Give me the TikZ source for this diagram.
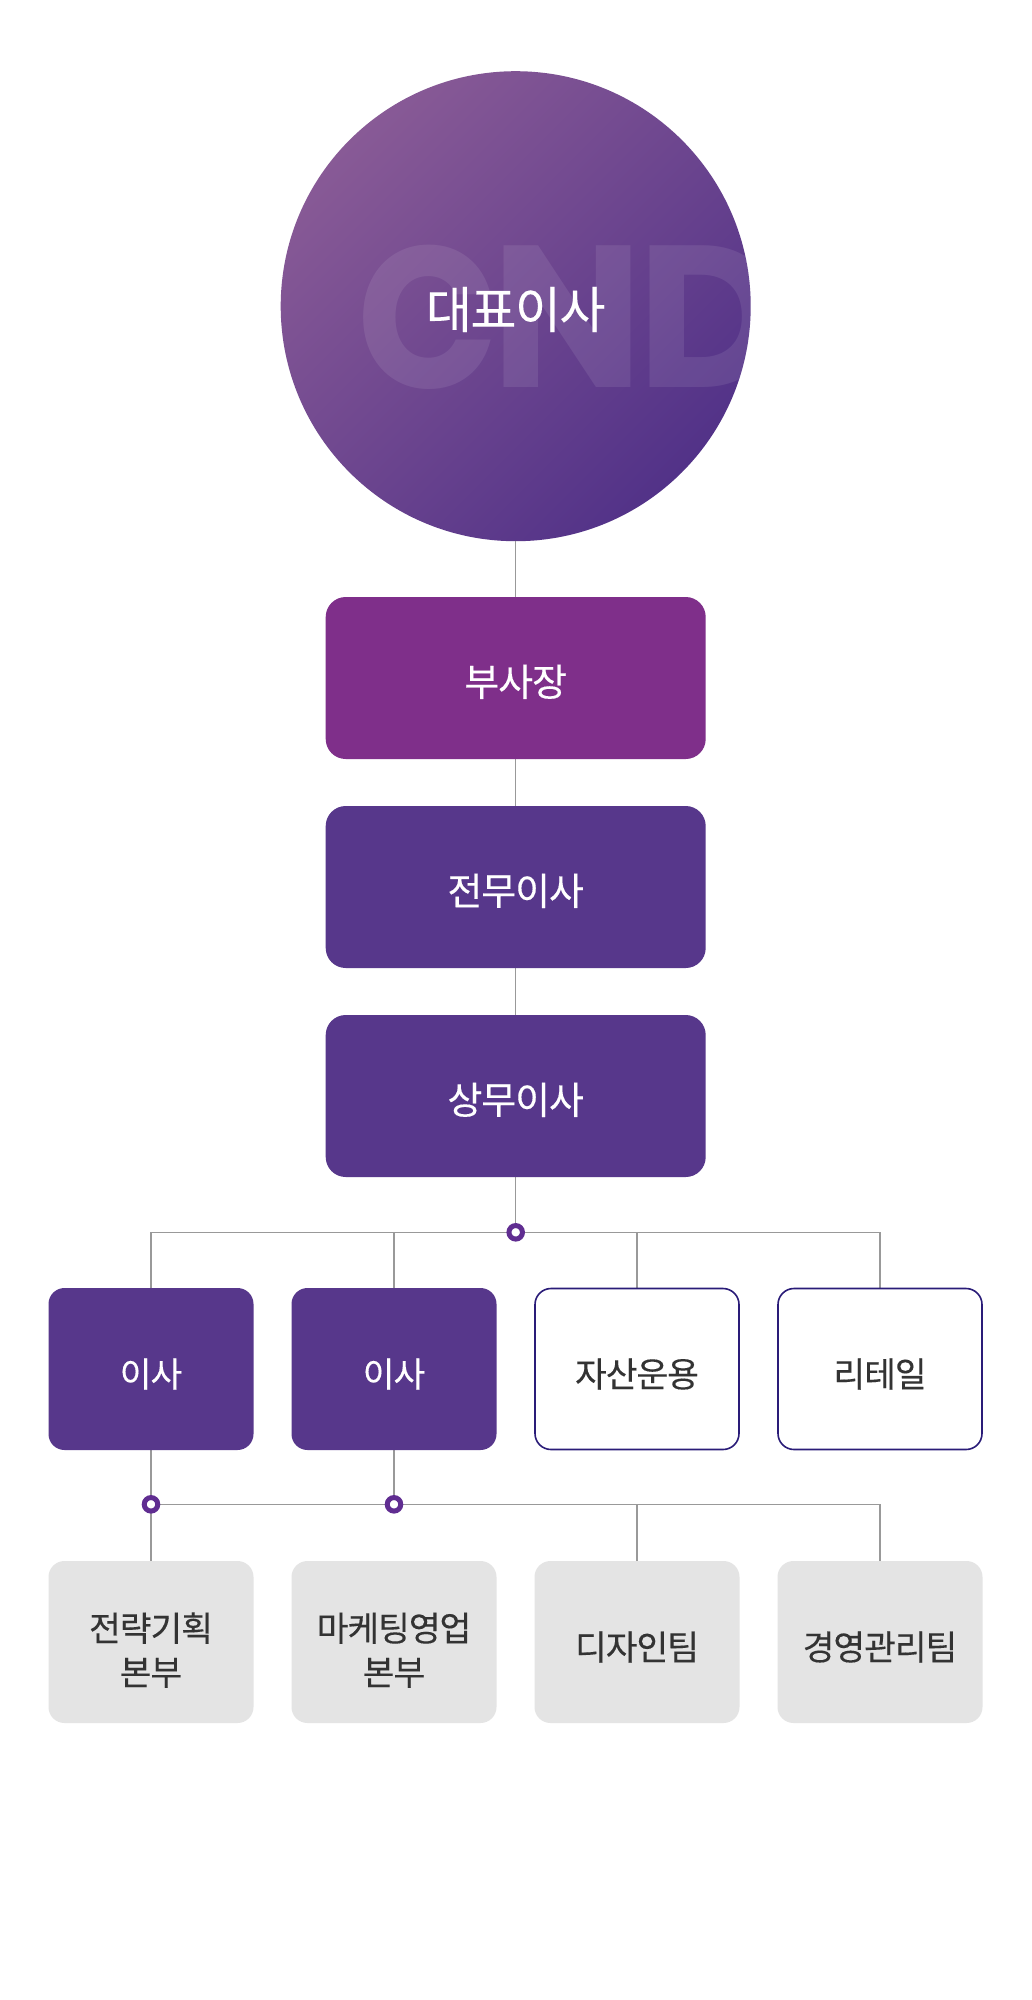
\documentclass[tikz,border=0pt]{standalone}
\usepackage{fontspec}
\setmainfont{Noto Sans CJK KR}[FakeBold=0.25,LetterSpace=-3]
\newfontfamily\cndfont{Poppins}
\newcommand{\lowone}[1]{\raisebox{-18pt}[0pt][0pt]{#1}}
\newcommand{\lowtwo}[2]{\raisebox{-18.5pt}[0pt][0pt]{\begin{tabular}{@{}c@{}}#1\\#2\end{tabular}}}
\definecolor{boxpurple}{RGB}{87,55,139}
\definecolor{boxmagenta}{RGB}{127,47,138}
\definecolor{boxgray}{RGB}{228,228,228}
\definecolor{boxline}{RGB}{42,28,120}
\definecolor{inkdark}{RGB}{51,51,51}
\definecolor{linkgray}{RGB}{153,153,153}
\definecolor{ringpurple}{RGB}{96,45,145}
\definecolor{gradA}{RGB}{136,90,150}
\definecolor{gradB}{RGB}{82,50,136}
\tikzset{
  x=1pt,y=-1pt,
  toptext/.style={font=\fontsize{38}{44}\selectfont,text=white},
  lowtext/.style={font=\fontsize{34.5}{44}\selectfont,align=center},
  boxbase/.style={rectangle,rounded corners=16pt,inner sep=0pt,anchor=center},
  bigbox/.style={boxbase,rounded corners=20pt,minimum width=380pt,minimum height=162pt,toptext},
  purplebox/.style={bigbox,fill=boxpurple},
  magentabox/.style={bigbox,fill=boxmagenta},
  smallbox/.style={boxbase,minimum width=205pt,lowtext},
  midfill/.style={smallbox,minimum height=162pt,fill=boxpurple,text=white},
  midline/.style={smallbox,minimum width=204pt,minimum height=161pt,draw=boxline,line width=1.6pt,fill=white,text=inkdark},
  grayfill/.style={smallbox,minimum height=162pt,fill=boxgray,text=inkdark},
  link/.style={draw=linkgray,line width=1.2pt},
  ring/.style={circle,draw=ringpurple,line width=5pt,fill=white,minimum size=13.5pt,inner sep=0pt},
  cndletter/.style={anchor=west,inner sep=0pt,text=white,text opacity=0.09,font=\cndfont\bfseries\fontsize{202}{202}\selectfont},
}
\begin{document}
\begin{tikzpicture}
\useasboundingbox (0,0) rectangle (1032,2000);
\fill[white] (0,0) rectangle (1032,2000);
\coordinate (j1) at (515.7,1232.3);
\coordinate (j2) at (151,1504.3);
\coordinate (j3) at (394,1504.3);
\coordinate (ceoBottom) at (515.7,541);
\path (515.7,678) coordinate (vpC) (515.7,887) coordinate (mdC) (515.7,1096) coordinate (edC);
\path (151,1369) coordinate (d1C) (394,1369) coordinate (d2C) (637,1369) coordinate (d3C) (880,1369) coordinate (d4C);
\path (151,1642) coordinate (t1C) (394,1642) coordinate (t2C) (637,1642) coordinate (t3C) (880,1642) coordinate (t4C);
\shade[left color=gradA,right color=gradB,shading angle=45] (515.7,306.2) circle[radius=235];
\begin{scope}
\clip (515.7,306.2) circle[radius=234.5];
\node[cndletter,xscale=0.92,transform shape] (cndC) at (357,317) {C};
\node[cndletter] (cndN) at (491,317) {N};
\node[cndletter] (cndD) at (637,317) {D};
\end{scope}
\node[font=\fontsize{50}{56}\selectfont,text=white,inner sep=0pt] (ceo) at (515.7,309.5) {대표이사};
\path[link] (ceoBottom) -- (vpC) (vpC) -- (mdC) (mdC) -- (edC) (edC) -- (j1);
\path[link] (j1) -- (151,1232.3) -- (d1C) (394,1232.3) -- (d2C) (j1) -- (880,1232.3) -- (d4C) (637,1232.3) -- (d3C);
\path[link] (d1C) -- (j2) -- (t1C) (d2C) -- (j3) (j2) -- (880,1504.3) -- (t4C) (637,1504.3) -- (t3C);
\node[magentabox] (vp) at (vpC) {\lowone{부사장}};
\node[purplebox] (md) at (mdC) {\lowone{전무이사}};
\node[purplebox] (ed) at (edC) {\lowone{상무이사}};
\node[midfill] (d1) at (d1C) {\lowone{이사}};
\node[midfill] (d2) at (d2C) {\lowone{이사}};
\node[midline] (d3) at (d3C) {\lowone{자산운용}};
\node[midline] (d4) at (d4C) {\lowone{리테일}};
\node[grayfill] (t1) at (t1C) {\lowtwo{전략기획}{본부}};
\node[grayfill] (t2) at (t2C) {\lowtwo{마케팅영업}{본부}};
\node[grayfill] (t3) at (t3C) {\lowone{디자인팀}};
\node[grayfill] (t4) at (t4C) {\lowone{경영관리팀}};
\node[ring] (r1) at (j1) {};
\node[ring] (r2) at (j2) {};
\node[ring] (r3) at (j3) {};
\end{tikzpicture}
\end{document}
